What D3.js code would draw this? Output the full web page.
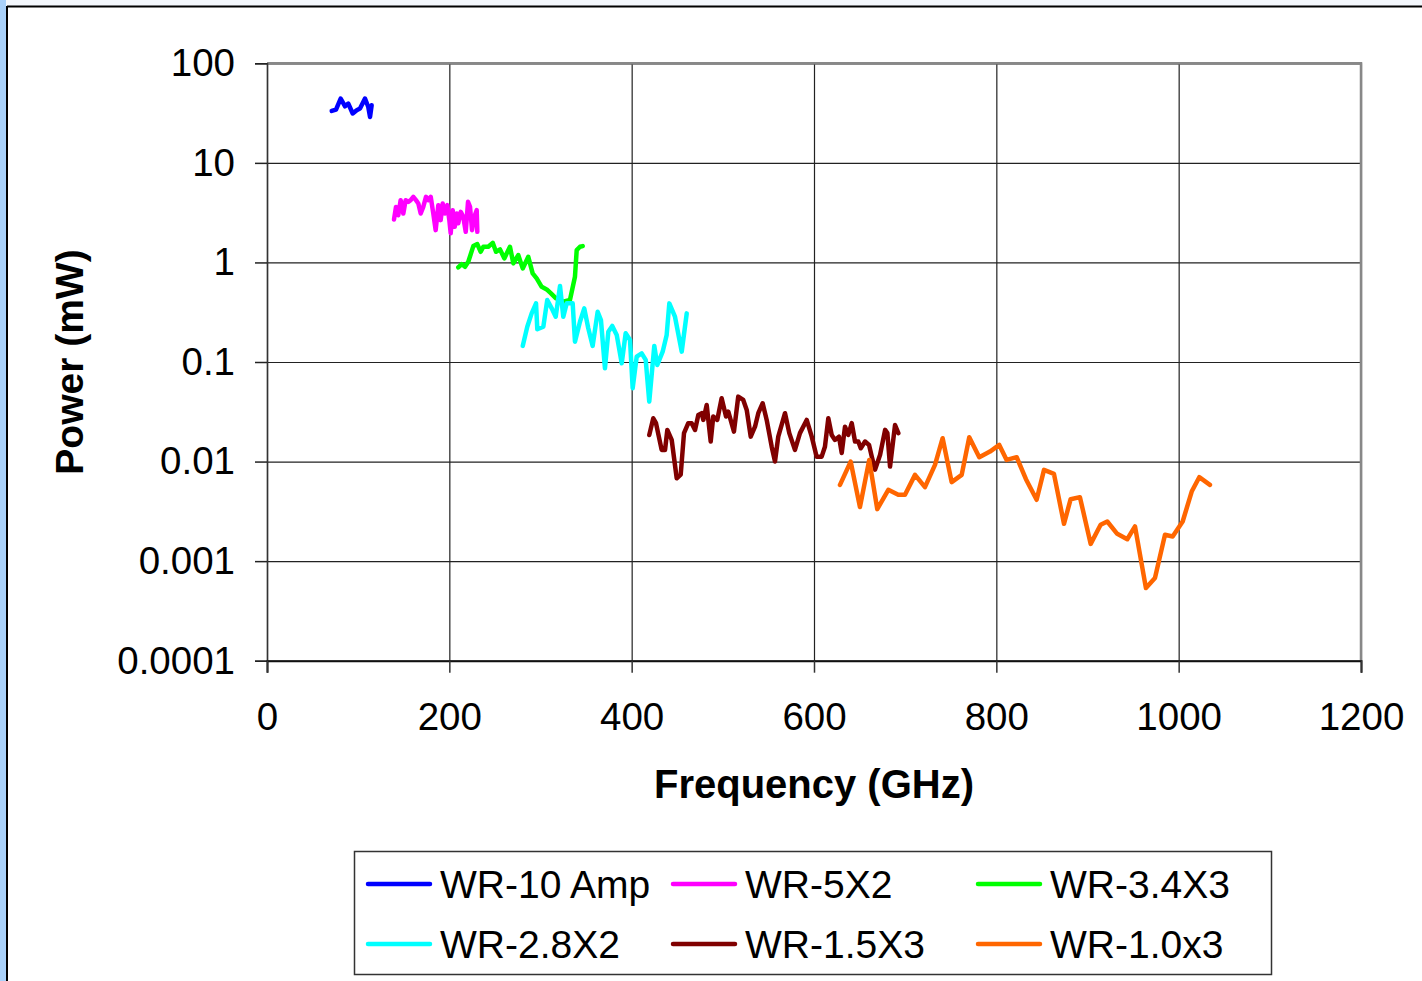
<!DOCTYPE html>
<html>
<head>
<meta charset="utf-8">
<script src="https://cdn.jsdelivr.net/npm/d3@7"></script>
<style>
	body { margin: 0; background: #fff; }
	text { font-family: "Liberation Sans", Arial, sans-serif; fill: #000; }
</style>
</head>
<body>
<div id="chart"></div>
<script>
////////////////////////////////////////////////////////////
//////////////////////// Data //////////////////////////////
////////////////////////////////////////////////////////////

var seriesNames = ["WR-10 Amp", "WR-5X2", "WR-3.4X3", "WR-2.8X2", "WR-1.5X3", "WR-1.0x3"];
var seriesColors = ["#0000ff", "#ff00ff", "#00ff00", "#00ffff", "#800000", "#ff6600"];

var wr10Freq = [71, 75.7, 80.8, 85.6, 89.2, 94, 98.4, 102, 107.5, 111.1, 113, 114.8];
var wr10Power = [33.2, 34.3, 44.3, 37.0, 39.4, 31.3, 33.8, 35.1, 44.3, 36.4, 28.9, 37.9];

var wr5Freq = [139.3, 141.5, 144, 146.6, 149.5, 152.1, 155, 157.6, 160.5, 163.4, 166, 168.6, 171.4, 174.4, 176.9, 179.6, 182.4, 185, 187.9,
	190.5, 192.7, 195.2, 197.8, 200, 201.5, 203.7, 205.9, 208.1, 209.8, 212.5, 215.3, 218, 220.5, 222.7, 224.9, 227.4, 230, 230.7];
var wr5Power = [2.70, 3.61, 2.98, 4.22, 3.10, 4.22, 4.06, 4.22, 4.56, 4.22, 3.91, 3.10, 3.61, 4.56, 4.22, 4.56, 3.10, 2.11, 3.76,
	2.66, 3.91, 3.10, 3.76, 2.66, 1.96, 3.35, 2.28, 3.10, 2.47, 3.22, 2.87, 2.03, 4.06, 3.61, 2.11, 2.87, 3.35, 2.03];

var wr34Freq = [209.8, 213.6, 217.2, 220.8, 226.3, 230.7, 234.4, 237.3, 242.7, 247.6, 251.2, 255.6, 260.3, 266.5, 270.2, 275.6,
	280.5, 286.6, 291.4, 295.8, 301.3, 306.8, 311.5, 317, 325, 332.3, 337.8, 339.7, 343.3, 346.3];
var wr34Power = [0.892, 0.962, 0.904, 1.015, 1.459, 1.527, 1.279, 1.436, 1.436, 1.574, 1.279, 1.352, 1.098, 1.436, 0.978, 1.186,
	0.871, 1.139, 0.776, 0.692, 0.569, 0.536, 0.489, 0.436, 0.403, 0.419, 0.718, 1.330, 1.436, 1.459];

var wr28Freq = [280.5, 285.5, 290.3, 295.1, 296.5, 303.1, 307.4, 312.3, 316.7, 321.4, 325, 328.7, 335.3, 337.8, 343.3, 348, 352.4,
	357.2, 362.7, 366.3, 370.7, 374.4, 378.7, 383.6, 389.1, 393.4, 398.2, 401.1, 405.5, 411, 415.4, 419.3, 424.8, 428.1, 434,
	438.4, 441.3, 447.5, 454.9, 460.4];
var wr28Power = [0.145, 0.226, 0.308, 0.388, 0.213, 0.226, 0.419, 0.346, 0.285, 0.579, 0.285, 0.388, 0.388, 0.160, 0.254, 0.346, 0.218,
	0.145, 0.320, 0.264, 0.0865, 0.201, 0.230, 0.187, 0.0971, 0.194, 0.166, 0.0545, 0.113, 0.122, 0.105, 0.040, 0.145, 0.0933, 0.127,
	0.187, 0.388, 0.285, 0.127, 0.308];

var wr15Freq = [419.3, 423.7, 426.7, 432.9, 436.6, 439.1, 443.9, 449.4, 453.8, 457.4, 462.1, 465.8, 469.5, 473.1, 476.8, 478.6, 482.3,
	486.7, 489.5, 493.9, 498.7, 503.5, 506, 512.2, 516.9, 522.4, 526.2, 530.6, 535.3, 538.9, 543.7, 548.1, 553.6, 557.2, 560.8, 568.2,
	572.9, 579.1, 584.6, 592, 597.5, 602.9, 608.4, 612, 615.7, 619.4, 623, 627.4, 630.4, 634, 637.6, 641.4, 645, 648.6, 651.3, 656,
	660.4, 663.4, 667, 672.5, 678, 680.5, 683.4, 688.9, 692.5];
var wr15Power = [0.0185, 0.0272, 0.0243, 0.0131, 0.0131, 0.0208, 0.0165, 0.0068, 0.0074, 0.0193, 0.0243, 0.0243, 0.0208, 0.0294, 0.0306, 0.0262, 0.0370,
	0.0159, 0.0283, 0.0262, 0.0432, 0.0283, 0.0317, 0.0200, 0.0449, 0.0416, 0.0330, 0.0178, 0.0224, 0.0306, 0.0385, 0.0262, 0.0141, 0.0100, 0.0178, 0.0306,
	0.0193, 0.0131, 0.0193, 0.0262, 0.0178, 0.0112, 0.0112, 0.0141, 0.0272, 0.0185, 0.0165, 0.0178, 0.0122, 0.0224, 0.0185, 0.0243, 0.0159, 0.0159, 0.0136, 0.0159,
	0.0147, 0.0112, 0.0083, 0.0117, 0.0208, 0.0193, 0.0089, 0.0233, 0.0193];

var wr10x3Freq = [628.5, 640.2, 650.4, 660.6, 669.4, 681.5, 692.4, 699.8, 710.8, 721.7, 732.7, 741.1, 751, 762, 770.3, 781.3, 793,
	803.2, 811.3, 822.3, 832.5, 844.2, 852.3, 863.2, 874.2, 881.5, 891.7, 903.5, 914.4, 921.7, 932.6, 943.6, 952.1, 964.1, 974, 985,
	993.4, 1004.4, 1014.3, 1022.6, 1034.3];
var wr10x3Power = [0.00583, 0.0100, 0.00349, 0.01039, 0.00333, 0.00520, 0.00463, 0.00463, 0.00735, 0.00553, 0.00926, 0.01716, 0.00621, 0.00735, 0.01757, 0.01107, 0.01260,
	0.01470, 0.01039, 0.01107, 0.00665, 0.00413, 0.00825, 0.00752, 0.00237, 0.00419, 0.00439, 0.00149, 0.00232, 0.00250, 0.00188, 0.00166, 0.00223, 0.000537, 0.000676, 0.00184,
	0.00177, 0.00250, 0.00500, 0.00697, 0.00583];

var xTicks = [0, 200, 400, 600, 800, 1000, 1200];
var yTicks = [0.0001, 0.001, 0.01, 0.1, 1, 10, 100];
var yTickLabels = ["0.0001", "0.001", "0.01", "0.1", "1", "10", "100"];

var seriesFreq = [wr10Freq, wr5Freq, wr34Freq, wr28Freq, wr15Freq, wr10x3Freq];
var seriesPower = [wr10Power, wr5Power, wr34Power, wr28Power, wr15Power, wr10x3Power];

////////////////////////////////////////////////////////////
//////////////////////// Set-Up ////////////////////////////
////////////////////////////////////////////////////////////

var width = 1422, height = 981;
var plot = {left: 267, right: 1361, top: 63.3, bottom: 660.7};

var x = d3.scaleLinear().domain([0, 1200]).range([plot.left, plot.right]);
var y = d3.scaleLog().domain([0.0001, 100]).range([plot.bottom, plot.top]);

var svg = d3.select("#chart").append("svg")
	.attr("width", width)
	.attr("height", height);

//Slide frame bits around the chart
svg.append("rect").attr("x", 0).attr("y", 0).attr("width", width).attr("height", 6).attr("fill", "#f3f7fc");
svg.append("rect").attr("x", 0).attr("y", 0).attr("width", 6).attr("height", height).attr("fill", "#a9d1fa");
svg.append("line").attr("x1", 7).attr("x2", width).attr("y1", 6.5).attr("y2", 6.5).attr("stroke", "#000").attr("stroke-width", 2);
svg.append("line").attr("x1", 7).attr("x2", 7).attr("y1", 6).attr("y2", height).attr("stroke", "#000").attr("stroke-width", 2);

////////////////////////////////////////////////////////////
//////////////////////// Grid & axes ///////////////////////
////////////////////////////////////////////////////////////

//Horizontal gridlines (decades)
svg.append("g")
	.attr("transform", "translate(" + plot.left + ",0)")
	.call(d3.axisLeft(y).tickValues(yTicks).tickSize(-(plot.right - plot.left)).tickFormat(""))
	.call(function(g) {
		g.select(".domain").remove();
		g.selectAll("line").attr("stroke", "#222").attr("stroke-width", 1.2);
	});

//Vertical gridlines
svg.append("g")
	.attr("transform", "translate(0," + plot.bottom + ")")
	.call(d3.axisBottom(x).tickValues(xTicks).tickSize(-(plot.bottom - plot.top)).tickFormat(""))
	.call(function(g) {
		g.select(".domain").remove();
		g.selectAll("line").attr("stroke", "#222").attr("stroke-width", 1.2);
	});

//Plot border top/right in gray
svg.append("path")
	.attr("d", "M" + plot.left + "," + plot.top + "H" + plot.right + "V" + plot.bottom)
	.attr("fill", "none")
	.attr("stroke", "#888")
	.attr("stroke-width", 2.5);

//Left axis with outside ticks
svg.append("g")
	.attr("transform", "translate(" + plot.left + ",0)")
	.call(d3.axisLeft(y).tickValues(yTicks).tickSize(12).tickPadding(20).tickFormat(function(d, i) { return yTickLabels[i]; }))
	.call(function(g) {
		g.select(".domain").attr("stroke", "#333").attr("stroke-width", 1.5);
		g.selectAll("line").attr("stroke", "#222").attr("stroke-width", 1.5);
		g.selectAll("text").style("font-size", "38.5px").attr("font-family", null);
	});

//Bottom axis
svg.append("g")
	.attr("transform", "translate(0," + plot.bottom + ")")
	.call(d3.axisBottom(x).tickValues(xTicks).tickSize(12).tickPadding(30).tickFormat(d3.format("d")))
	.call(function(g) {
		g.select(".domain").attr("stroke", "#111").attr("stroke-width", 2);
		g.selectAll("line").attr("stroke", "#333").attr("stroke-width", 1.5);
		g.selectAll("text").style("font-size", "38.5px").attr("font-family", null);
	});

//Axis titles
svg.append("text")
	.attr("x", (plot.left + plot.right) / 2)
	.attr("y", 798)
	.attr("text-anchor", "middle")
	.style("font-size", "40px")
	.style("font-weight", "bold")
	.text("Frequency (GHz)");

svg.append("text")
	.attr("transform", "translate(83," + ((plot.top + plot.bottom) / 2) + ") rotate(-90)")
	.attr("text-anchor", "middle")
	.style("font-size", "39px")
	.style("font-weight", "bold")
	.text("Power (mW)");

////////////////////////////////////////////////////////////
//////////////////////// Lines /////////////////////////////
////////////////////////////////////////////////////////////

var line = d3.line()
	.x(function(d) { return x(d[0]); })
	.y(function(d) { return y(d[1]); });

seriesNames.forEach(function(name, i) {
	var pts = seriesFreq[i].map(function(f, j) { return [f, seriesPower[i][j]]; });
	svg.append("path")
		.datum(pts)
		.attr("fill", "none")
		.attr("stroke", seriesColors[i])
		.attr("stroke-width", 4.5)
		.attr("stroke-linejoin", "round")
		.attr("stroke-linecap", "round")
		.attr("d", line);
});

////////////////////////////////////////////////////////////
//////////////////////// Legend ////////////////////////////
////////////////////////////////////////////////////////////

svg.append("rect")
	.attr("x", 354.5).attr("y", 851.5)
	.attr("width", 917).attr("height", 123)
	.attr("fill", "#fff")
	.attr("stroke", "#333")
	.attr("stroke-width", 1.5);

var legend = svg.selectAll("g.legend")
	.data(seriesNames)
	.enter().append("g")
	.attr("class", "legend")
	.attr("transform", function(d, i) { return "translate(" + (368 + (i % 3) * 305) + "," + (884 + Math.floor(i / 3) * 60) + ")"; });

legend.append("line")
	.attr("x1", 0).attr("x2", 62)
	.attr("stroke", function(d, i) { return seriesColors[i]; })
	.attr("stroke-width", 4.5)
	.attr("stroke-linecap", "round");

legend.append("text")
	.attr("x", 72)
	.attr("dy", "0.35em")
	.style("font-size", "39px")
	.text(function(d) { return d; });
</script>
</body>
</html>
